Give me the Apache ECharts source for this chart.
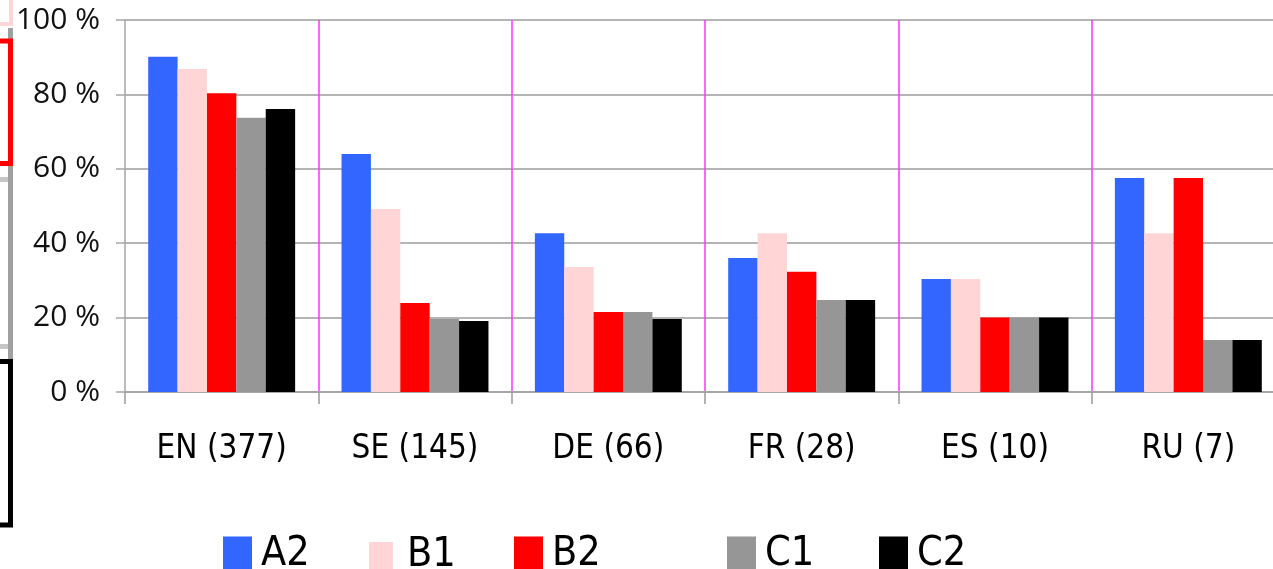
<!DOCTYPE html>
<html>
<head>
<meta charset="utf-8">
<title>Levels by language</title>
<script src="https://cdn.jsdelivr.net/npm/echarts@6/dist/echarts.min.js"></script>
<style>
  html, body { margin: 0; padding: 0; background: #fff; }
  #chart { width: 1273px; height: 569px; }
</style>
</head>
<body>
<div id="chart"></div>
<script>
// categories (language + number of answers)
var languages = ['EN (377)', 'SE (145)', 'DE (66)', 'FR (28)', 'ES (10)', 'RU (7)'];
var yTicks = [0, 20, 40, 60, 80, 100];

// share per level, in %
var levelA2 = [90.1, 64.0, 42.7, 36.0, 30.4, 57.5];
var levelB1 = [86.8, 49.2, 33.6, 42.7, 30.4, 42.7];
var levelB2 = [80.3, 23.9, 21.5, 32.3, 20.0, 57.5];
var levelC1 = [73.7, 19.6, 21.5, 24.7, 20.0, 14.0];
var levelC2 = [76.1, 19.1, 19.6, 24.7, 20.0, 14.0];

var levelNames = ['A2', 'B1', 'B2', 'C1', 'C2'];
var levelColors = ['#3366FF', '#FFD5D5', '#FF0000', '#969696', '#000000'];
var levelData = [levelA2, levelB1, levelB2, levelC1, levelC2];

var narrow = '"DejaVu Sans Condensed", "Liberation Sans Narrow", sans-serif';

var chart = echarts.init(document.getElementById('chart'), null, { renderer: 'canvas' });

var series = [];
for (var i = 0; i < levelNames.length; i++) {
  series.push({
    name: levelNames[i],
    type: 'bar',
    data: levelData[i],
    barGap: '0%',
    barCategoryGap: '24%',
    itemStyle: { color: levelColors[i] },
    emphasis: { disabled: true }
  });
}

// one legend per item so each can sit where the original put it
var legendLeft = [223, 369, 514, 727, 879];
var legends = [];
for (var j = 0; j < levelNames.length; j++) {
  var small = levelNames[j] === 'B1';
  legends.push({
    data: [levelNames[j]],
    left: legendLeft[j],
    top: small ? 535 : 534,
    padding: 0,
    itemWidth: small ? 24 : 29,
    itemHeight: small ? 27 : 36,
    icon: 'rect',
    selectedMode: false,
    textStyle: {
      fontFamily: narrow,
      fontSize: 41,
      color: '#000',
      padding: [0, 0, 0, small ? 9 : 4]
    }
  });
}

var option = {
  animation: false,
  backgroundColor: '#fff',
  grid: {
    left: 125,
    width: 1160,
    top: 20,
    bottom: 177,
    containLabel: false,
    outerBoundsMode: 'none'
  },
  legend: legends,
  xAxis: {
    type: 'category',
    data: languages,
    axisLine: { show: true, lineStyle: { color: '#a6a6a6', width: 2 } },
    axisTick: { show: true, length: 12, lineStyle: { color: '#999', width: 1.5 } },
    axisLabel: {
      color: '#000',
      fontFamily: narrow,
      fontSize: 33,
      margin: 41
    },
    splitLine: {
      show: true,
      interval: function (index) { return index > 0; },
      lineStyle: { color: '#FF33FF', width: 1.5 }
    }
  },
  yAxis: {
    type: 'value',
    min: yTicks[0],
    max: yTicks[yTicks.length - 1],
    interval: 20,
    axisLine: { show: true, lineStyle: { color: '#a6a6a6', width: 1.5 } },
    axisTick: { show: true, length: 9, lineStyle: { color: '#a6a6a6', width: 1.5 } },
    axisLabel: {
      color: '#111',
      fontFamily: '"Open Sans", sans-serif',
      fontSize: 30,
      margin: 25,
      formatter: '{value} %'
    },
    splitLine: { show: true, lineStyle: { color: '#b4b4b4', width: 2 } }
  },
  // bits of a neighbouring legend cut off at the left edge
  graphic: [
    { type: 'rect', shape: { x: -20, y: -20, width: 31, height: 44 },
      style: { fill: null, stroke: '#FFD5D5', lineWidth: 4 } },
    { type: 'rect', shape: { x: 8, y: 28, width: 5, height: 331 },
      style: { fill: '#A0A0A0' } },
    { type: 'rect', shape: { x: 0, y: 177, width: 8, height: 5 },
      style: { fill: '#C6C6C6' } },
    { type: 'rect', shape: { x: 0, y: 344, width: 8, height: 5 },
      style: { fill: '#C6C6C6' } },
    { type: 'rect', shape: { x: -20, y: 41, width: 30.5, height: 122.5 },
      style: { fill: null, stroke: '#FF0000', lineWidth: 5 } },
    { type: 'rect', shape: { x: -20, y: 361.5, width: 30.5, height: 163.5 },
      style: { fill: null, stroke: '#000000', lineWidth: 5 } }
  ],
  series: series
};

chart.setOption(option);
</script>
</body>
</html>
